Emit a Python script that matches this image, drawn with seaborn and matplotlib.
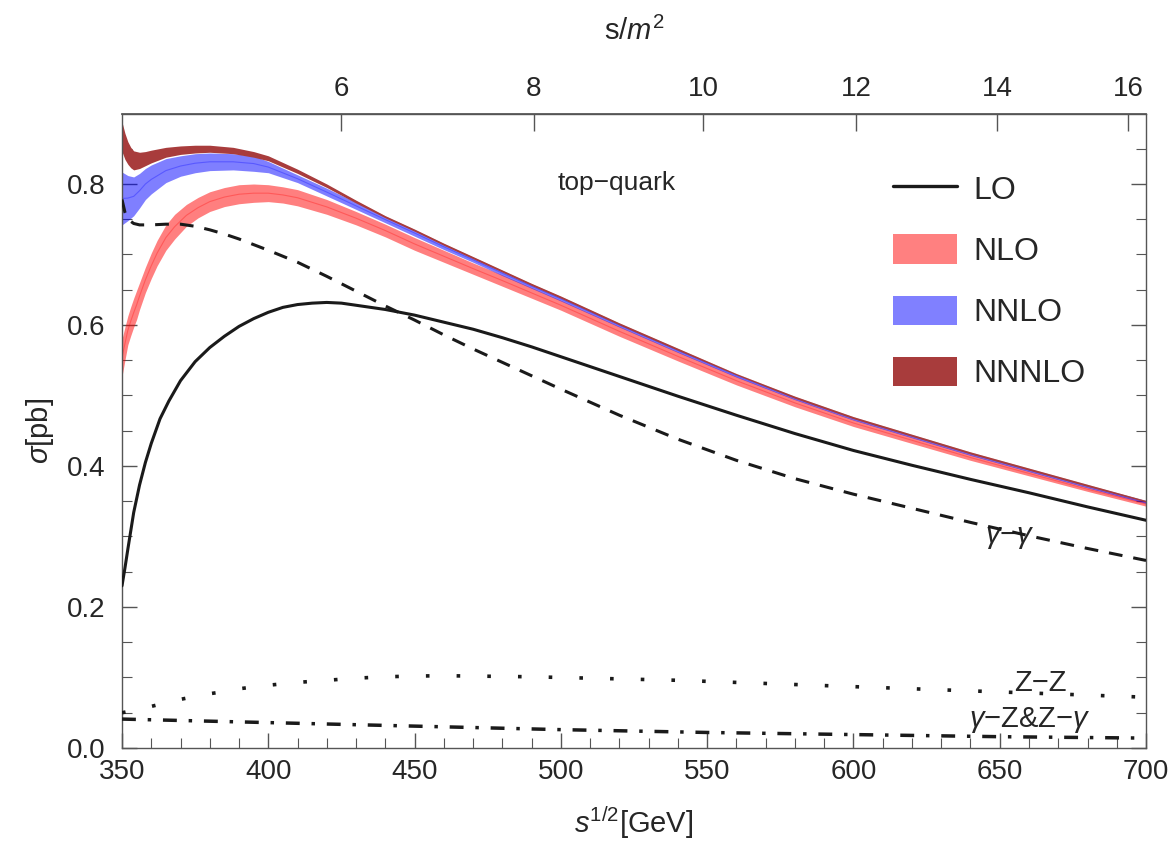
import numpy as np
import matplotlib
matplotlib.use("Agg")
import matplotlib.pyplot as plt
from matplotlib.lines import Line2D
from matplotlib.patches import Patch
import seaborn as sns

M_TOP = 173.5  # mass used for the s/m^2 axis on top

# ---- LO (solid) ----
lo_x = [350, 351, 352, 353, 354, 356, 358, 360, 363, 366, 370, 375, 380, 385, 390, 395,
        400, 405, 410, 415, 420, 425, 430, 440, 450, 460, 470, 480, 490, 500, 520, 540,
        560, 580, 600, 620, 640, 660, 680, 700]
lo_y = [0.230, 0.255, 0.282, 0.308, 0.334, 0.373, 0.405, 0.432, 0.467, 0.492, 0.521, 0.548,
        0.568, 0.584, 0.598, 0.609, 0.618, 0.625, 0.629, 0.631, 0.632, 0.631, 0.628, 0.622,
        0.614, 0.604, 0.594, 0.582, 0.569, 0.555, 0.527, 0.499, 0.472, 0.446, 0.422, 0.401,
        0.381, 0.362, 0.342, 0.323]

# ---- gamma-gamma (dashed) ----
gg_x = [350, 351, 352, 354, 356, 360, 365, 370, 375, 380, 385, 390, 395, 400, 410, 420, 430,
        440, 450, 460, 470, 480, 490, 500, 520, 540, 560, 580, 600, 620, 640, 660, 680, 700]
gg_y = [0.778, 0.760, 0.750, 0.744, 0.742, 0.742, 0.743, 0.743, 0.740, 0.735, 0.729, 0.722,
        0.714, 0.706, 0.689, 0.669, 0.648, 0.627, 0.607, 0.586, 0.566, 0.547, 0.528, 0.509,
        0.472, 0.438, 0.408, 0.382, 0.360, 0.340, 0.320, 0.301, 0.283, 0.266]

# ---- Z-Z (dotted) ----
zz_x = [350, 355, 360, 365, 370, 375, 380, 385, 390, 400, 410, 420, 430, 440, 450, 460, 470,
        480, 490, 500, 520, 540, 560, 580, 600, 620, 640, 660, 680, 700]
zz_y = [0.050, 0.054, 0.059, 0.064, 0.069, 0.073, 0.077, 0.080, 0.084, 0.089, 0.093, 0.096,
        0.099, 0.101, 0.102, 0.1025, 0.102, 0.1015, 0.101, 0.100, 0.098, 0.096, 0.093, 0.090,
        0.087, 0.084, 0.081, 0.078, 0.075, 0.072]

# ---- gamma-Z & Z-gamma (dash-dot) ----
gz_x = [350, 400, 450, 500, 550, 600, 650, 700]
gz_y = [0.041, 0.036, 0.031, 0.026, 0.022, 0.019, 0.016, 0.014]

# ---- NLO band ----
nlo_x = [350, 351, 352, 353, 354, 355, 356, 358, 360, 362, 365, 368, 372, 376, 380, 385, 390,
         395, 400, 405, 410, 420, 430, 440, 450, 460, 470, 480, 490, 500, 520, 540, 560, 580,
         600, 620, 640, 660, 680, 700]
nlo_lo = [0.527, 0.550, 0.572, 0.585, 0.597, 0.608, 0.622, 0.646, 0.666, 0.684, 0.706, 0.722,
          0.740, 0.752, 0.761, 0.768, 0.772, 0.774, 0.775, 0.773, 0.769, 0.757, 0.742, 0.725,
          0.706, 0.689, 0.672, 0.655, 0.638, 0.621, 0.584, 0.549, 0.515, 0.484, 0.456, 0.432,
          0.408, 0.386, 0.364, 0.343]
nlo_hi = [0.580, 0.597, 0.613, 0.626, 0.638, 0.649, 0.660, 0.682, 0.702, 0.720, 0.742, 0.757,
          0.771, 0.781, 0.789, 0.795, 0.799, 0.800, 0.799, 0.796, 0.792, 0.778, 0.761, 0.743,
          0.724, 0.706, 0.688, 0.671, 0.653, 0.635, 0.598, 0.562, 0.527, 0.495, 0.466, 0.441,
          0.416, 0.393, 0.370, 0.349]

# ---- NNLO band ----
nnlo_x = [350, 352, 354, 356, 358, 360, 365, 370, 375, 380, 388, 395, 400, 410, 420, 430, 440,
          450, 460, 470, 480, 490, 500, 520, 540, 560, 580, 600, 620, 640, 660, 680, 700]
nnlo_lo = [0.742, 0.748, 0.755, 0.766, 0.778, 0.786, 0.802, 0.811, 0.816, 0.819, 0.820, 0.818,
           0.816, 0.802, 0.783, 0.764, 0.745, 0.726, 0.707, 0.689, 0.670, 0.652, 0.634, 0.597,
           0.561, 0.526, 0.494, 0.465, 0.440, 0.415, 0.392, 0.369, 0.347]
nnlo_hi = [0.817, 0.812, 0.810, 0.815, 0.822, 0.827, 0.836, 0.840, 0.843, 0.844, 0.843, 0.840,
           0.832, 0.813, 0.794, 0.774, 0.754, 0.735, 0.715, 0.696, 0.677, 0.658, 0.640, 0.602,
           0.566, 0.530, 0.498, 0.469, 0.444, 0.419, 0.396, 0.373, 0.351]

# ---- NNNLO band ----
n3lo_x = [350, 351, 352, 353, 354, 356, 358, 360, 365, 370, 375, 380, 388, 395, 400, 410, 420,
          430, 440, 450, 460, 470, 480, 490, 500, 520, 540, 560, 580, 600, 620, 640, 660, 680,
          700]
n3lo_lo = [0.846, 0.835, 0.828, 0.823, 0.820, 0.822, 0.826, 0.830, 0.838, 0.842, 0.844, 0.845,
           0.843, 0.838, 0.833, 0.815, 0.795, 0.773, 0.752, 0.733, 0.713, 0.694, 0.675, 0.656,
           0.638, 0.600, 0.564, 0.529, 0.496, 0.467, 0.442, 0.417, 0.394, 0.371, 0.349]
n3lo_hi = [0.888, 0.872, 0.860, 0.852, 0.847, 0.845, 0.846, 0.848, 0.852, 0.854, 0.855, 0.855,
           0.852, 0.846, 0.840, 0.821, 0.800, 0.777, 0.755, 0.736, 0.716, 0.697, 0.678, 0.659,
           0.641, 0.603, 0.567, 0.531, 0.499, 0.470, 0.445, 0.420, 0.397, 0.374, 0.351]

legend_labels = ["LO", "NLO", "NNLO", "NNNLO"]
top_ticks = [6, 8, 10, 12, 14, 16]

sns.set_theme(style="ticks")
plt.rcParams["font.family"] = ["Liberation Sans", "DejaVu Sans"]
plt.rcParams["mathtext.fontset"] = "custom"
plt.rcParams["mathtext.rm"] = "Liberation Sans"
plt.rcParams["mathtext.it"] = "Liberation Sans:italic"
plt.rcParams["mathtext.sf"] = "Liberation Sans"

fig = plt.figure(figsize=(11.73, 8.56), dpi=100)
ax = fig.add_axes([0.104, 0.1262, 0.873, 0.7412])

frame = "#555555"

# bands
bands = [(nlo_x, nlo_lo, nlo_hi, (1, 0, 0), 0.5),
         (nnlo_x, nnlo_lo, nnlo_hi, (0, 0, 1), 0.5),
         (n3lo_x, n3lo_lo, n3lo_hi, "#a83c3c", 1.0)]
for bx, blo, bhi, col, a in bands:
    ax.fill_between(bx, blo, bhi, color=col, alpha=a, lw=0, zorder=2)
    mid = (np.array(blo) + np.array(bhi)) / 2
    sns.lineplot(x=bx, y=mid, color=col, alpha=0.3, lw=0.8, ax=ax, zorder=2)

# curves
sns.lineplot(x=lo_x, y=lo_y, color="k", lw=2.2, ax=ax, zorder=4)
sns.lineplot(x=gg_x, y=gg_y, color="k", lw=2.2, linestyle=(0, (4.5, 3.6)), ax=ax, zorder=4)
sns.lineplot(x=zz_x, y=zz_y, color="k", lw=2.6, linestyle=(0, (1, 7.5)), ax=ax, zorder=4)
sns.lineplot(x=gz_x, y=gz_y, color="k", lw=2.5, linestyle=(0, (4.0, 3.4, 1, 3.4)), ax=ax,
             zorder=4)

ax.set_xlim(350, 700)
ax.set_ylim(0, 0.9)
ax.set_xticks(np.arange(350, 701, 50))
ax.set_xticks(np.arange(350, 701, 10), minor=True)
ax.set_yticks([0.0, 0.2, 0.4, 0.6, 0.8])
ax.set_yticks(np.arange(0, 0.9, 0.05), minor=True)
ax.yaxis.set_major_formatter("{x:.1f}")
ax.tick_params(which="both", direction="in", top=False, right=True, color=frame,
               labelsize=20, pad=8)
ax.tick_params(axis="y", pad=12)
ax.tick_params(which="major", length=11, width=1)
ax.tick_params(which="minor", length=7, width=0.8)
for s in ax.spines.values():
    s.set_color(frame)
    s.set_linewidth(1.0)

ax.set_xlabel(r"$s^{1/2}$[GeV]", fontsize=21, labelpad=14)
ax.set_ylabel(r"$\sigma$[pb]", fontsize=21, labelpad=8)

secax = ax.secondary_xaxis("top", functions=(lambda x: (x / M_TOP) ** 2,
                                             lambda s: M_TOP * np.sqrt(np.clip(s, 0, None))))
secax.set_xticks(top_ticks)
secax.tick_params(direction="in", length=12, width=1, color=frame, labelsize=20, pad=8)
secax.spines["top"].set_color(frame)
secax.set_xlabel(r"s/$m^2$", fontsize=21, labelpad=26)

# annotations
ax.text(519, 0.801, "top\u2212quark", fontsize=19, ha="center", va="center")
ax.text(653.5, 0.299, r"$\gamma$" + "\u2212" + r"$\gamma$", fontsize=21, ha="center", va="center")
ax.text(663.8, 0.092, "Z\u2212Z", fontsize=21, ha="center", va="center")
ax.text(660.4, 0.040, r"$\gamma$" + "\u2212Z&Z\u2212" + r"$\gamma$", fontsize=21,
        ha="center", va="center")

handles = [Line2D([], [], color="k", lw=2.4),
           Patch(facecolor="#ff8080", edgecolor="none"),
           Patch(facecolor="#8080ff", edgecolor="none"),
           Patch(facecolor="#a83c3c", edgecolor="none")]
ax.legend(handles, legend_labels, loc="upper left", bbox_to_anchor=(0.753, 0.906),
          frameon=False, fontsize=23, handlelength=2.0, handleheight=1.03,
          labelspacing=0.9, handletextpad=0.5, borderpad=0, borderaxespad=0)

fig.savefig("out.png", dpi=100)
